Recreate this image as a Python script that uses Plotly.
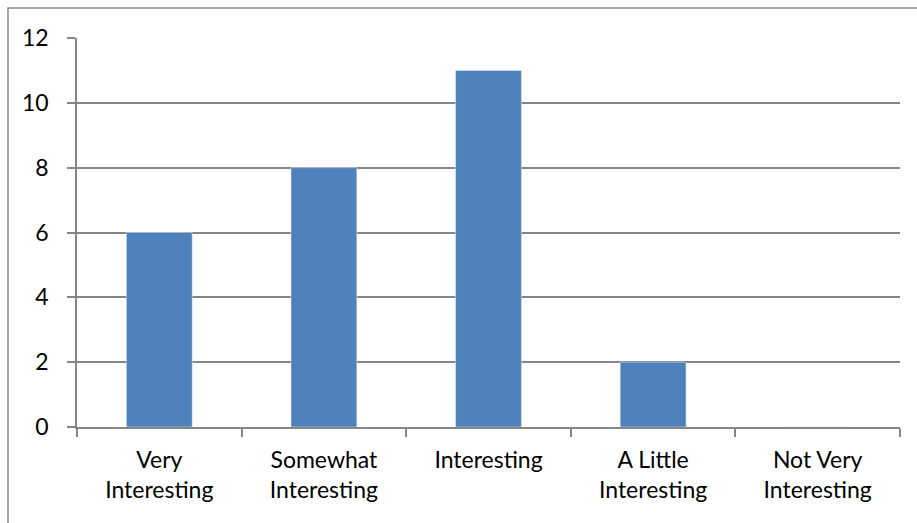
import plotly.graph_objects as go

categories = ["Very<br>Interesting", "Somewhat<br>Interesting", "Interesting", "A Little<br>Interesting", "Not Very<br>Interesting"]
counts = [6, 8, 11, 2, 0]
y_ticks = [0, 2, 4, 6, 8, 10, 12]

grid = "#868686"
fig = go.Figure(go.Bar(x=categories, y=counts, marker_color="#4f81bd", width=0.4))

fig.update_layout(
    width=917, height=523,
    margin=dict(l=77, r=17, t=38, b=96),
    paper_bgcolor="white", plot_bgcolor="white",
    font=dict(family="Lato, Calibri, sans-serif", size=23, color="#000"),
    showlegend=False,
    bargap=0.6,
    shapes=[dict(type="rect", xref="paper", yref="paper",
                 x0=(8 - 77) / 823, x1=1.2, y0=-0.5, y1=1 + 30 / 389,
                 line=dict(color="#888888", width=1.5), fillcolor="rgba(0,0,0,0)", layer="below")],
)
fig.update_yaxes(range=[0, 12], tickvals=y_ticks, showgrid=True, gridcolor=grid, gridwidth=1.6,
                 showline=True, linecolor=grid, linewidth=1.6, ticks="outside", ticklen=8,
                 tickcolor=grid, tickwidth=1.6, ticklabelstandoff=14, zeroline=False, fixedrange=True)
fig.update_xaxes(showline=True, linecolor=grid, linewidth=1.6, ticks="outside", ticklen=8,
                 tickcolor=grid, tickwidth=1.6, tickson="boundaries", showgrid=False,
                 ticklabelstandoff=12, fixedrange=True)

fig.write_html("out.html")
